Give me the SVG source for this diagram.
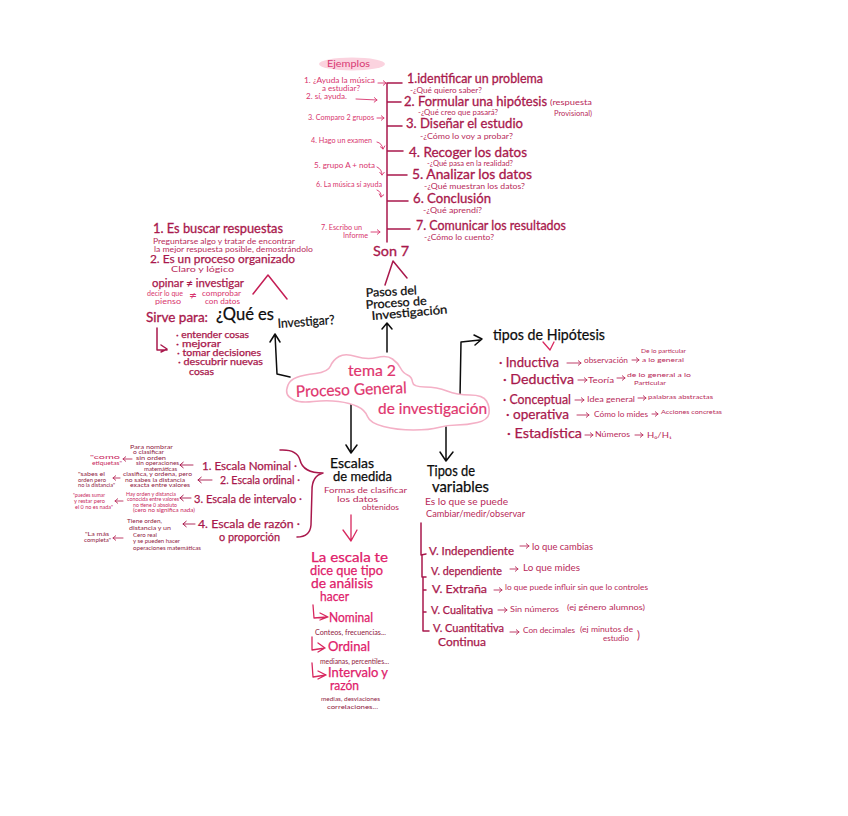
<svg xmlns="http://www.w3.org/2000/svg" width="848" height="816" viewBox="0 0 848 816">
<style>
text{font-family:"Lato","Liberation Sans",sans-serif}
.k{fill:#0c0c0c;stroke:#0c0c0c;stroke-width:.25;font-size:15px}
.m{fill:#a9184c;stroke:#a9184c;stroke-width:.3;font-size:13px}
.d{fill:#a9184c;stroke:#a9184c;stroke-width:.25;font-size:11px}
.s{fill:#b82a5a;font-size:7px}
.p{fill:#d8356e;font-size:7px}
.t{fill:#8f1a42;font-size:5px}
.u{fill:#c81f5d;font-size:5px}
.n{fill:#e0206a;stroke:#e0206a;stroke-width:.25;font-size:13px}
.c{fill:#e0356e;stroke:#e0356e;stroke-width:.2;font-size:16px}
.g{fill:#d83a74;font-size:9px}
.line,.kl,.pl,.ar,.arp{fill:none;stroke-linecap:round;stroke-linejoin:round}
.line{stroke:#a9184c;stroke-width:1.5}
.kl{stroke:#0c0c0c;stroke-width:1.5}
.pl{stroke:#d8285f;stroke-width:1.3}
.ar{stroke:#b82a5a;stroke-width:.9;marker-end:url(#hr)}
.arp{stroke:#d8356e;stroke-width:.9;marker-end:url(#hp)}
.dk{stroke:#a9184c;marker-end:url(#hd)}
</style>
<defs>
<marker id="hr" markerWidth="8" markerHeight="8" refX="5" refY="4" orient="auto" markerUnits="userSpaceOnUse"><path d="M2,1.500L5,4L2,6.500" fill="none" stroke="#b82a5a" stroke-width=".9"/></marker>
<marker id="hp" markerWidth="8" markerHeight="8" refX="5" refY="4" orient="auto" markerUnits="userSpaceOnUse"><path d="M2,1.500L5,4L2,6.500" fill="none" stroke="#d8356e" stroke-width=".9"/></marker>
<marker id="hd" markerWidth="8" markerHeight="8" refX="5" refY="4" orient="auto" markerUnits="userSpaceOnUse"><path d="M1.500,1L5,4L1.500,7" fill="none" stroke="#a9184c" stroke-width="1"/></marker>
</defs>
<rect width="848" height="816" fill="#fff"/>

<g id="connectors">
<path class="kl" d="M290,377L277,374L275,334M270,342L275,334L280,342"/>
<path class="kl" d="M387,352L387,325M382,329L387,323L392,329"/>
<path class="kl" d="M460,397L461,342L480,340M474,335L482,339L475,345"/>
<path class="kl" d="M351,404L351,452M346,445L351,453L357,445"/>
<path class="kl" d="M446,427L446,460M440,452L446,461L453,452"/>
<path class="line" d="M387,83L387,242M387,83L402,83M388,102L401,102M388,126L402,126M388,151L403,151M388,175L407,175M388,201L408,201M388,229L410,229"/>
<path class="arp" d="M378,83L386,83"/>
<path class="arp" d="M356,99L377,100"/>
<path class="arp" d="M377,118L384,118"/>
<path class="arp" d="M377,142Q382,143 383,149"/>
<path class="arp" d="M377,167Q382,169 382,175"/>
<path class="arp" d="M377,190Q382,192 381,197"/>
<path class="arp" d="M371,232L380,232"/>
<path class="line" d="M393,261L385,285M393,261L407,278"/>
<path class="pl" d="M253,294L268,275L287,299" style="stroke:#c41e55;stroke-width:1.500"/>
<path class="line" d="M157,328L157,350L167,350M161,345L167,349L161,352"/>
<path class="pl" d="M351,515L351,541M343,530L351,541L357,530"/>
<path class="pl" d="M313,605L314,618L327,617M320,613L328,617L320,620"/>
<path class="pl" d="M312,637L312,650L325,648M318,643L325,648L318,652"/>
<path class="pl" d="M312,663L313,677L326,675M318,671L326,675L318,679"/>
<path class="pl" d="M543,342L550,350L554,342"/>
<path class="ar" d="M567,363L581,363"/>
<path class="ar" d="M632,360L639,360"/>
<path class="ar" d="M578,380L587,380"/>
<path class="ar" d="M617,378L625,378"/>
<path class="ar" d="M575,400L584,400"/>
<path class="ar" d="M638,398L646,398"/>
<path class="ar" d="M577,415L589,415"/>
<path class="ar" d="M652,414L658,414"/>
<path class="ar" d="M585,435L593,435"/>
<path class="ar" d="M635,435L643,435"/>
<path class="line" d="M280,450Q297,449 300,460Q303,473 323,473Q312,476 312,490L311,525Q310,537 297,537"/>
<path class="line" d="M421,523L421,555L426,554M422,555L422,577L426,577M423,577L423,631L429,631M423,590L426,590M423,612L426,612"/>
<path class="ar dk" d="M193,465L180,465"/>
<path class="ar dk" d="M212,480L198,480"/>
<path class="ar dk" d="M191,498L180,498"/>
<path class="ar dk" d="M195,524L183,524"/>
<path class="ar" d="M132,459L123,459"/>
<path class="ar" d="M120,478L113,478"/>
<path class="ar" d="M123,501L115,501"/>
<path class="ar" d="M123,538L113,538"/>
<path class="ar" d="M520,546L529,546"/>
<path class="ar" d="M510,569L518,569"/>
<path class="ar" d="M494,590L502,590"/>
<path class="ar" d="M498,610L507,610"/>
<path class="ar" d="M510,632L519,632"/>
</g>

<g id="cloud">
<path d="M288,385Q290,380 296.500,377.500Q303,375 315.500,373.500Q328,372 330.500,366Q333,360 339,356.500Q345,353 356,356.500Q367,360 377,357.500Q387,355 392.500,359Q398,363 400.500,368Q403,373 407.500,375Q412,377 412.500,382Q413,387 425,387Q437,387 447,391Q457,395 470,395Q483,395 486.500,401Q490,407 489,413.500Q488,420 477.500,422.500Q467,425 457,425Q447,425 438.500,427.500Q430,430 413.500,430Q397,430 383.500,426.500Q370,423 367.500,416.500Q365,410 357.500,406.500Q350,403 338.500,401.500Q327,400 313.500,401.500Q300,403 294,400Q288,397 287,393.500Q286,390 288,385Z" fill="#fff" stroke="#f4b0c6" stroke-width="1.600"/>
<text class="c" x="348" y="376" textLength="48" lengthAdjust="spacingAndGlyphs">tema 2</text>
<text class="c" x="296" y="397" textLength="111" lengthAdjust="spacingAndGlyphs" transform="rotate(-2 296 397)">Proceso General</text>
<text class="c" x="378" y="414" textLength="109" lengthAdjust="spacingAndGlyphs">de investigación</text>
</g>

<g id="ejemplos">
<ellipse cx="352" cy="64" rx="33" ry="6.500" fill="#fbd3df"/>
<text class="g" x="327" y="67" textLength="43" lengthAdjust="spacingAndGlyphs">Ejemplos</text>
<text class="p" x="304" y="83" textLength="71" lengthAdjust="spacingAndGlyphs">1. ¿Ayuda la música</text>
<text class="p" x="322" y="90.500" textLength="38" lengthAdjust="spacingAndGlyphs">a estudiar?</text>
<text class="p" x="306" y="99" textLength="41" lengthAdjust="spacingAndGlyphs">2. sí, ayuda.</text>
<text class="p" x="308" y="120" textLength="66" lengthAdjust="spacingAndGlyphs">3. Comparo 2 grupos</text>
<text class="p" x="311" y="143" textLength="61" lengthAdjust="spacingAndGlyphs">4. Hago un examen</text>
<text class="p" x="314" y="168" textLength="61" lengthAdjust="spacingAndGlyphs">5. grupo A + nota</text>
<text class="p" x="316" y="187" textLength="66" lengthAdjust="spacingAndGlyphs">6. La música sí ayuda</text>
<text class="p" x="321" y="230" textLength="41" lengthAdjust="spacingAndGlyphs">7. Escribo un</text>
<text class="p" x="343" y="238" textLength="25" lengthAdjust="spacingAndGlyphs">Informe</text>
</g>

<g id="pasos-lista">
<text class="m" x="407" y="83" textLength="136" lengthAdjust="spacingAndGlyphs">1.identificar un problema</text>
<text class="s" x="410" y="92.500" textLength="72" lengthAdjust="spacingAndGlyphs">-¿Qué quiero saber?</text>
<text class="m" x="404" y="105.500" textLength="143" lengthAdjust="spacingAndGlyphs">2. Formular una hipótesis</text>
<text class="s" x="418" y="115" textLength="80" lengthAdjust="spacingAndGlyphs">-¿Qué creo que pasará?</text>
<text class="s" x="550" y="105" textLength="42" lengthAdjust="spacingAndGlyphs">(respuesta</text>
<text class="s" x="554" y="116" textLength="38" lengthAdjust="spacingAndGlyphs">Provisional)</text>
<text class="m" x="406" y="128" textLength="117" lengthAdjust="spacingAndGlyphs">3. Diseñar el estudio</text>
<text class="s" x="420" y="139" textLength="93" lengthAdjust="spacingAndGlyphs">-¿Cómo lo voy a probar?</text>
<text class="m" x="409" y="156.500" textLength="118" lengthAdjust="spacingAndGlyphs">4. Recoger los datos</text>
<text class="s" x="427" y="166" textLength="86" lengthAdjust="spacingAndGlyphs">-¿Qué pasa en la realidad?</text>
<text class="m" x="412" y="179" textLength="120" lengthAdjust="spacingAndGlyphs">5. Analizar los datos</text>
<text class="s" x="424" y="188.500" textLength="101" lengthAdjust="spacingAndGlyphs">-¿Qué muestran los datos?</text>
<text class="m" x="413" y="203" textLength="78" lengthAdjust="spacingAndGlyphs">6. Conclusión</text>
<text class="s" x="423" y="212.500" textLength="59" lengthAdjust="spacingAndGlyphs">-¿Qué aprendí?</text>
<text class="m" x="416" y="230" textLength="150" lengthAdjust="spacingAndGlyphs">7. Comunicar los resultados</text>
<text class="s" x="424" y="240" textLength="70" lengthAdjust="spacingAndGlyphs">-¿Cómo lo cuento?</text>
<text class="m" x="373" y="256" textLength="36" lengthAdjust="spacingAndGlyphs">Son 7</text>
</g>

<g id="pasos">
<text class="k" style="font-size:12px" x="366" y="297" textLength="51" lengthAdjust="spacingAndGlyphs" transform="rotate(-3 366 297)">Pasos del</text>
<text class="k" style="font-size:12px" x="366" y="309" textLength="61" lengthAdjust="spacingAndGlyphs" transform="rotate(-4 366 309)">Proceso de</text>
<text class="k" style="font-size:12px" x="372" y="320" textLength="76" lengthAdjust="spacingAndGlyphs" transform="rotate(-5 372 320)">Investigación</text>
</g>

<g id="que-es-investigar">
<text class="k" style="font-size:17px" x="216" y="320" textLength="58" lengthAdjust="spacingAndGlyphs">¿Qué es</text>
<text class="k" style="font-size:13px" x="278" y="328" textLength="57" lengthAdjust="spacingAndGlyphs" transform="rotate(-4 278 328)">Investigar?</text>
<text class="m" x="153" y="233" textLength="130" lengthAdjust="spacingAndGlyphs">1. Es buscar respuestas</text>
<text class="s" x="153" y="243.500" textLength="142" lengthAdjust="spacingAndGlyphs">Preguntarse algo y tratar de encontrar</text>
<text class="s" x="154" y="251.500" textLength="159" lengthAdjust="spacingAndGlyphs">la mejor respuesta posible, demostrándolo</text>
<text class="d" x="150" y="263" textLength="145" lengthAdjust="spacingAndGlyphs">2. Es un proceso organizado</text>
<text class="s" x="171" y="272" textLength="63" lengthAdjust="spacingAndGlyphs">Claro y lógico</text>
<text class="d" x="152" y="287" textLength="92" lengthAdjust="spacingAndGlyphs">opinar ≠ investigar</text>
<text class="p" x="147" y="296" textLength="36" lengthAdjust="spacingAndGlyphs">decir lo que</text>
<text class="p" style="font-size:11px" x="189" y="299" textLength="8" lengthAdjust="spacingAndGlyphs">≠</text>
<text class="p" x="202" y="296" textLength="39" lengthAdjust="spacingAndGlyphs">comprobar</text>
<text class="p" x="155" y="304" textLength="26" lengthAdjust="spacingAndGlyphs">pienso</text>
<text class="p" x="205" y="304" textLength="35" lengthAdjust="spacingAndGlyphs">con datos</text>
<text class="m" x="146" y="322" textLength="62" lengthAdjust="spacingAndGlyphs">Sirve para:</text>
<text class="d" style="font-size:9px" x="176" y="338" textLength="73" lengthAdjust="spacingAndGlyphs">· entender cosas</text>
<text class="d" style="font-size:9px" x="176" y="347" textLength="45" lengthAdjust="spacingAndGlyphs">· mejorar</text>
<text class="d" style="font-size:9px" x="177" y="356" textLength="84" lengthAdjust="spacingAndGlyphs">· tomar decisiones</text>
<text class="d" style="font-size:9px" x="178" y="365" textLength="85" lengthAdjust="spacingAndGlyphs">· descubrir nuevas</text>
<text class="d" style="font-size:9px" x="189" y="375" textLength="25" lengthAdjust="spacingAndGlyphs">cosas</text>
</g>

<g id="tipos-hipotesis">
<text class="k" style="font-size:16px" x="493" y="340" textLength="112" lengthAdjust="spacingAndGlyphs">tipos de Hipótesis</text>
<text class="d" style="font-size:13px" x="499" y="367" textLength="60" lengthAdjust="spacingAndGlyphs">· Inductiva</text>
<text class="s" x="584" y="363" textLength="44" lengthAdjust="spacingAndGlyphs">observación</text>
<text class="t" style="fill:#b82a5a;font-size:6.500px" x="641" y="353" textLength="45" lengthAdjust="spacingAndGlyphs">De lo particular</text>
<text class="t" style="fill:#b82a5a;font-size:6.500px" x="642" y="362" textLength="42" lengthAdjust="spacingAndGlyphs">a lo general</text>
<text class="d" style="font-size:13px" x="503" y="384" textLength="71" lengthAdjust="spacingAndGlyphs">· Deductiva</text>
<text class="s" x="588" y="383" textLength="26" lengthAdjust="spacingAndGlyphs">Teoría</text>
<text class="t" style="fill:#b82a5a;font-size:6.500px" x="627" y="377" textLength="64" lengthAdjust="spacingAndGlyphs">de lo general a lo</text>
<text class="t" style="fill:#b82a5a;font-size:6.500px" x="634" y="385" textLength="32" lengthAdjust="spacingAndGlyphs">Particular</text>
<text class="d" style="font-size:13px" x="503" y="404" textLength="68" lengthAdjust="spacingAndGlyphs">· Conceptual</text>
<text class="s" x="587" y="402" textLength="48" lengthAdjust="spacingAndGlyphs">Idea general</text>
<text class="t" style="fill:#b82a5a;font-size:6.500px" x="648" y="399" textLength="65" lengthAdjust="spacingAndGlyphs">palabras abstractas</text>
<text class="d" style="font-size:13px" x="506" y="419" textLength="63" lengthAdjust="spacingAndGlyphs">· operativa</text>
<text class="s" x="594" y="417" textLength="54" lengthAdjust="spacingAndGlyphs">Cómo lo mides</text>
<text class="t" style="fill:#b82a5a;font-size:6.500px" x="661" y="414" textLength="61" lengthAdjust="spacingAndGlyphs">Acciones concretas</text>
<text class="d" style="font-size:13px" x="507" y="438" textLength="75" lengthAdjust="spacingAndGlyphs">· Estadística</text>
<text class="s" x="595" y="437" textLength="35" lengthAdjust="spacingAndGlyphs">Números</text>
<text class="s" x="647" y="438" textLength="25" lengthAdjust="spacingAndGlyphs">H₀/H₁</text>
</g>

<g id="escalas-lista">
<text class="d" x="202" y="470" textLength="95" lengthAdjust="spacingAndGlyphs">1. Escala Nominal ·</text>
<text class="d" x="220" y="484" textLength="80" lengthAdjust="spacingAndGlyphs">2. Escala ordinal ·</text>
<text class="d" x="194" y="503" textLength="108" lengthAdjust="spacingAndGlyphs">3. Escala de intervalo ·</text>
<text class="d" x="198" y="528" textLength="102" lengthAdjust="spacingAndGlyphs">4. Escala de razón ·</text>
<text class="d" x="219" y="541" textLength="61" lengthAdjust="spacingAndGlyphs">o proporción</text>
<text class="t" x="130" y="448.500" textLength="43" lengthAdjust="spacingAndGlyphs">Para nombrar</text>
<text class="t" x="133" y="454" textLength="31" lengthAdjust="spacingAndGlyphs">o clasificar</text>
<text class="t" x="136" y="459.500" textLength="30" lengthAdjust="spacingAndGlyphs">sin orden</text>
<text class="t" x="136" y="465" textLength="43" lengthAdjust="spacingAndGlyphs">sin operaciones</text>
<text class="t" x="144" y="470.500" textLength="33" lengthAdjust="spacingAndGlyphs">matemáticas</text>
<text class="u" x="90" y="459" textLength="30" lengthAdjust="spacingAndGlyphs">"como</text>
<text class="u" x="92" y="465" textLength="30" lengthAdjust="spacingAndGlyphs">etiquetas"</text>
<text class="t" x="78" y="476" textLength="27" lengthAdjust="spacingAndGlyphs">"sabes el</text>
<text class="t" x="78" y="481.500" textLength="28" lengthAdjust="spacingAndGlyphs">orden pero</text>
<text class="t" x="78" y="487" textLength="37" lengthAdjust="spacingAndGlyphs">no la distancia"</text>
<text class="t" x="123" y="476" textLength="69" lengthAdjust="spacingAndGlyphs">clasifica, y ordena, pero</text>
<text class="t" x="125" y="481.500" textLength="60" lengthAdjust="spacingAndGlyphs">no sabes la distancia</text>
<text class="t" x="130" y="487" textLength="60" lengthAdjust="spacingAndGlyphs">exacta entre valores</text>
<text class="u" x="73" y="497" textLength="32" lengthAdjust="spacingAndGlyphs">"puedes sumar</text>
<text class="u" x="74" y="503" textLength="31" lengthAdjust="spacingAndGlyphs">y restar pero</text>
<text class="u" x="75" y="509" textLength="38" lengthAdjust="spacingAndGlyphs">el 0 no es nada"</text>
<text class="u" x="126" y="495.500" textLength="50" lengthAdjust="spacingAndGlyphs">Hay orden y distancia</text>
<text class="u" x="127" y="501" textLength="52" lengthAdjust="spacingAndGlyphs">conocida entre valores</text>
<text class="u" x="133" y="506.500" textLength="44" lengthAdjust="spacingAndGlyphs">no tiene 0 absoluto</text>
<text class="u" x="133" y="512" textLength="62" lengthAdjust="spacingAndGlyphs">(cero no significa nada)</text>
<text class="t" x="127" y="523" textLength="35" lengthAdjust="spacingAndGlyphs">Tiene orden,</text>
<text class="t" x="129" y="530" textLength="42" lengthAdjust="spacingAndGlyphs">distancia y un</text>
<text class="t" x="133" y="536.500" textLength="24" lengthAdjust="spacingAndGlyphs">Cero real</text>
<text class="t" x="133" y="543" textLength="47" lengthAdjust="spacingAndGlyphs">y se pueden hacer</text>
<text class="t" x="133" y="550" textLength="68" lengthAdjust="spacingAndGlyphs">operaciones matemáticas</text>
<text class="t" x="85" y="536" textLength="24" lengthAdjust="spacingAndGlyphs">"La más</text>
<text class="t" x="84" y="542" textLength="27" lengthAdjust="spacingAndGlyphs">completa"</text>
</g>

<g id="escalas-de-medida">
<text class="k" style="font-size:13px" x="330" y="468" textLength="44" lengthAdjust="spacingAndGlyphs">Escalas</text>
<text class="k" style="font-size:13px" x="333" y="481" textLength="59" lengthAdjust="spacingAndGlyphs">de medida</text>
<text class="s" x="324" y="493" textLength="83" lengthAdjust="spacingAndGlyphs">Formas de clasificar</text>
<text class="s" x="337" y="502" textLength="41" lengthAdjust="spacingAndGlyphs">los datos</text>
<text class="s" x="362" y="510" textLength="37" lengthAdjust="spacingAndGlyphs">obtenidos</text>
<text class="n" x="311" y="562" textLength="77" lengthAdjust="spacingAndGlyphs">La escala te</text>
<text class="n" x="310" y="575" textLength="73" lengthAdjust="spacingAndGlyphs">dice que tipo</text>
<text class="n" x="311" y="588" textLength="62" lengthAdjust="spacingAndGlyphs">de análisis</text>
<text class="n" x="320" y="601" textLength="29" lengthAdjust="spacingAndGlyphs">hacer</text>
<text class="n" x="329" y="622" textLength="44" lengthAdjust="spacingAndGlyphs">Nominal</text>
<text class="t" style="font-size:7px" x="315" y="635" textLength="71" lengthAdjust="spacingAndGlyphs">Conteos, frecuencias...</text>
<text class="n" x="328" y="651" textLength="42" lengthAdjust="spacingAndGlyphs">Ordinal</text>
<text class="t" style="font-size:7px" x="320" y="663.500" textLength="69" lengthAdjust="spacingAndGlyphs">medianas, percentiles...</text>
<text class="n" x="328" y="677" textLength="60" lengthAdjust="spacingAndGlyphs">Intervalo y</text>
<text class="n" x="330" y="690" textLength="29" lengthAdjust="spacingAndGlyphs">razón</text>
<text class="t" style="font-size:6px" x="321" y="701" textLength="59" lengthAdjust="spacingAndGlyphs">medias, desviaciones</text>
<text class="t" style="font-size:6px" x="327" y="709" textLength="51" lengthAdjust="spacingAndGlyphs">correlaciones...</text>
</g>

<g id="tipos-variables">
<text class="k" x="427" y="476" textLength="48" lengthAdjust="spacingAndGlyphs">Tipos de</text>
<text class="k" x="432" y="492" textLength="57" lengthAdjust="spacingAndGlyphs">variables</text>
<text class="s" style="font-size:9px" x="425" y="505" textLength="83" lengthAdjust="spacingAndGlyphs">Es lo que se puede</text>
<text class="s" style="font-size:9px" x="426" y="517" textLength="99" lengthAdjust="spacingAndGlyphs">Cambiar/medir/observar</text>
<text class="d" x="429" y="555" textLength="85" lengthAdjust="spacingAndGlyphs">V. Independiente</text>
<text class="s" style="font-size:9px" x="532" y="550" textLength="61" lengthAdjust="spacingAndGlyphs">lo que cambias</text>
<text class="d" x="431" y="575" textLength="71" lengthAdjust="spacingAndGlyphs">V. dependiente</text>
<text class="s" style="font-size:9px" x="523" y="571" textLength="57" lengthAdjust="spacingAndGlyphs">Lo que mides</text>
<text class="d" x="432" y="593" textLength="55" lengthAdjust="spacingAndGlyphs">V. Extraña</text>
<text class="s" x="505" y="590" textLength="143" lengthAdjust="spacingAndGlyphs">lo que puede influir sin que lo controles</text>
<text class="d" x="431" y="614" textLength="62" lengthAdjust="spacingAndGlyphs">V. Cualitativa</text>
<text class="s" x="510" y="612" textLength="49" lengthAdjust="spacingAndGlyphs">Sin números</text>
<text class="s" x="567" y="610" textLength="78" lengthAdjust="spacingAndGlyphs">(ej género alumnos)</text>
<text class="d" x="433" y="632" textLength="71" lengthAdjust="spacingAndGlyphs">V. Cuantitativa</text>
<text class="d" x="438" y="645.500" textLength="48" lengthAdjust="spacingAndGlyphs">Continua</text>
<text class="s" x="523" y="633" textLength="52" lengthAdjust="spacingAndGlyphs">Con decimales</text>
<text class="s" x="580" y="632" textLength="53" lengthAdjust="spacingAndGlyphs">(ej minutos de</text>
<text class="s" x="603" y="641" textLength="26" lengthAdjust="spacingAndGlyphs">estudio</text>
<text class="s" style="font-size:11px" x="637" y="639">)</text>
</g>
</svg>
